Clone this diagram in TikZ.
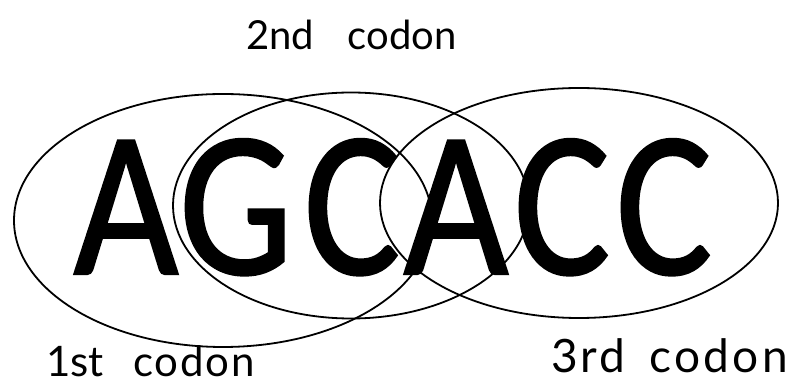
\documentclass[tikz,border=0pt]{standalone}
\usepackage{fontspec}
\usetikzlibrary{shapes.geometric}
\newfontfamily\bigfont[FakeBold=1.2]{Carlito}
\newfontfamily\handfont{Lato}
\newcommand{\narrowglyph}[1]{\scalebox{0.87}[1]{#1}}
\begin{document}
\begin{tikzpicture}[x=1pt,y=1pt,
  ring/.style={draw=black, line width=1.8pt, ellipse, inner sep=0pt, outer sep=0pt},
  base/.style={inner sep=0pt, outer sep=0pt, anchor=base, font=\bigfont\fontsize{208}{208}\selectfont},
  hand/.style={inner sep=0pt, outer sep=0pt, anchor=base west, font=\handfont\fontsize{#1}{#1}\selectfont}]
\useasboundingbox (0,0) rectangle (798,390);
\fill[white] (0,0) rectangle (798,390);
% ellipses
\node[ring, minimum width=418pt, minimum height=253pt] (e1) at (223,169.5) {};
\node[ring, minimum width=356pt, minimum height=226pt] (e2) at (351,184.5) {};
\node[ring, minimum width=398pt, minimum height=230pt] (e3) at (579,187) {};
% letters
\node[base] (l1) at (126,116) {\narrowglyph{A}};
\node[base] (l2) at (236,116) {\narrowglyph{G}};
\node[base] (l3) at (352,116) {\narrowglyph{C}};
\node[base] (l4) at (456,116) {\narrowglyph{A}};
\node[base] (l5) at (562,116) {\narrowglyph{C}};
\node[base] (l6) at (664,116) {\narrowglyph{C}};
% labels
\node[hand=40] (t2) at (246,340) {2nd\hspace{34pt}codon};
\node[hand=42] (t1) at (46,13) {1st\hspace{30pt}\addfontfeature{LetterSpace=4}codon};
\node[hand=46] (t3) at (551,17) {\addfontfeature{LetterSpace=7}3rd\hspace{24pt}codon};
\end{tikzpicture}
\end{document}
